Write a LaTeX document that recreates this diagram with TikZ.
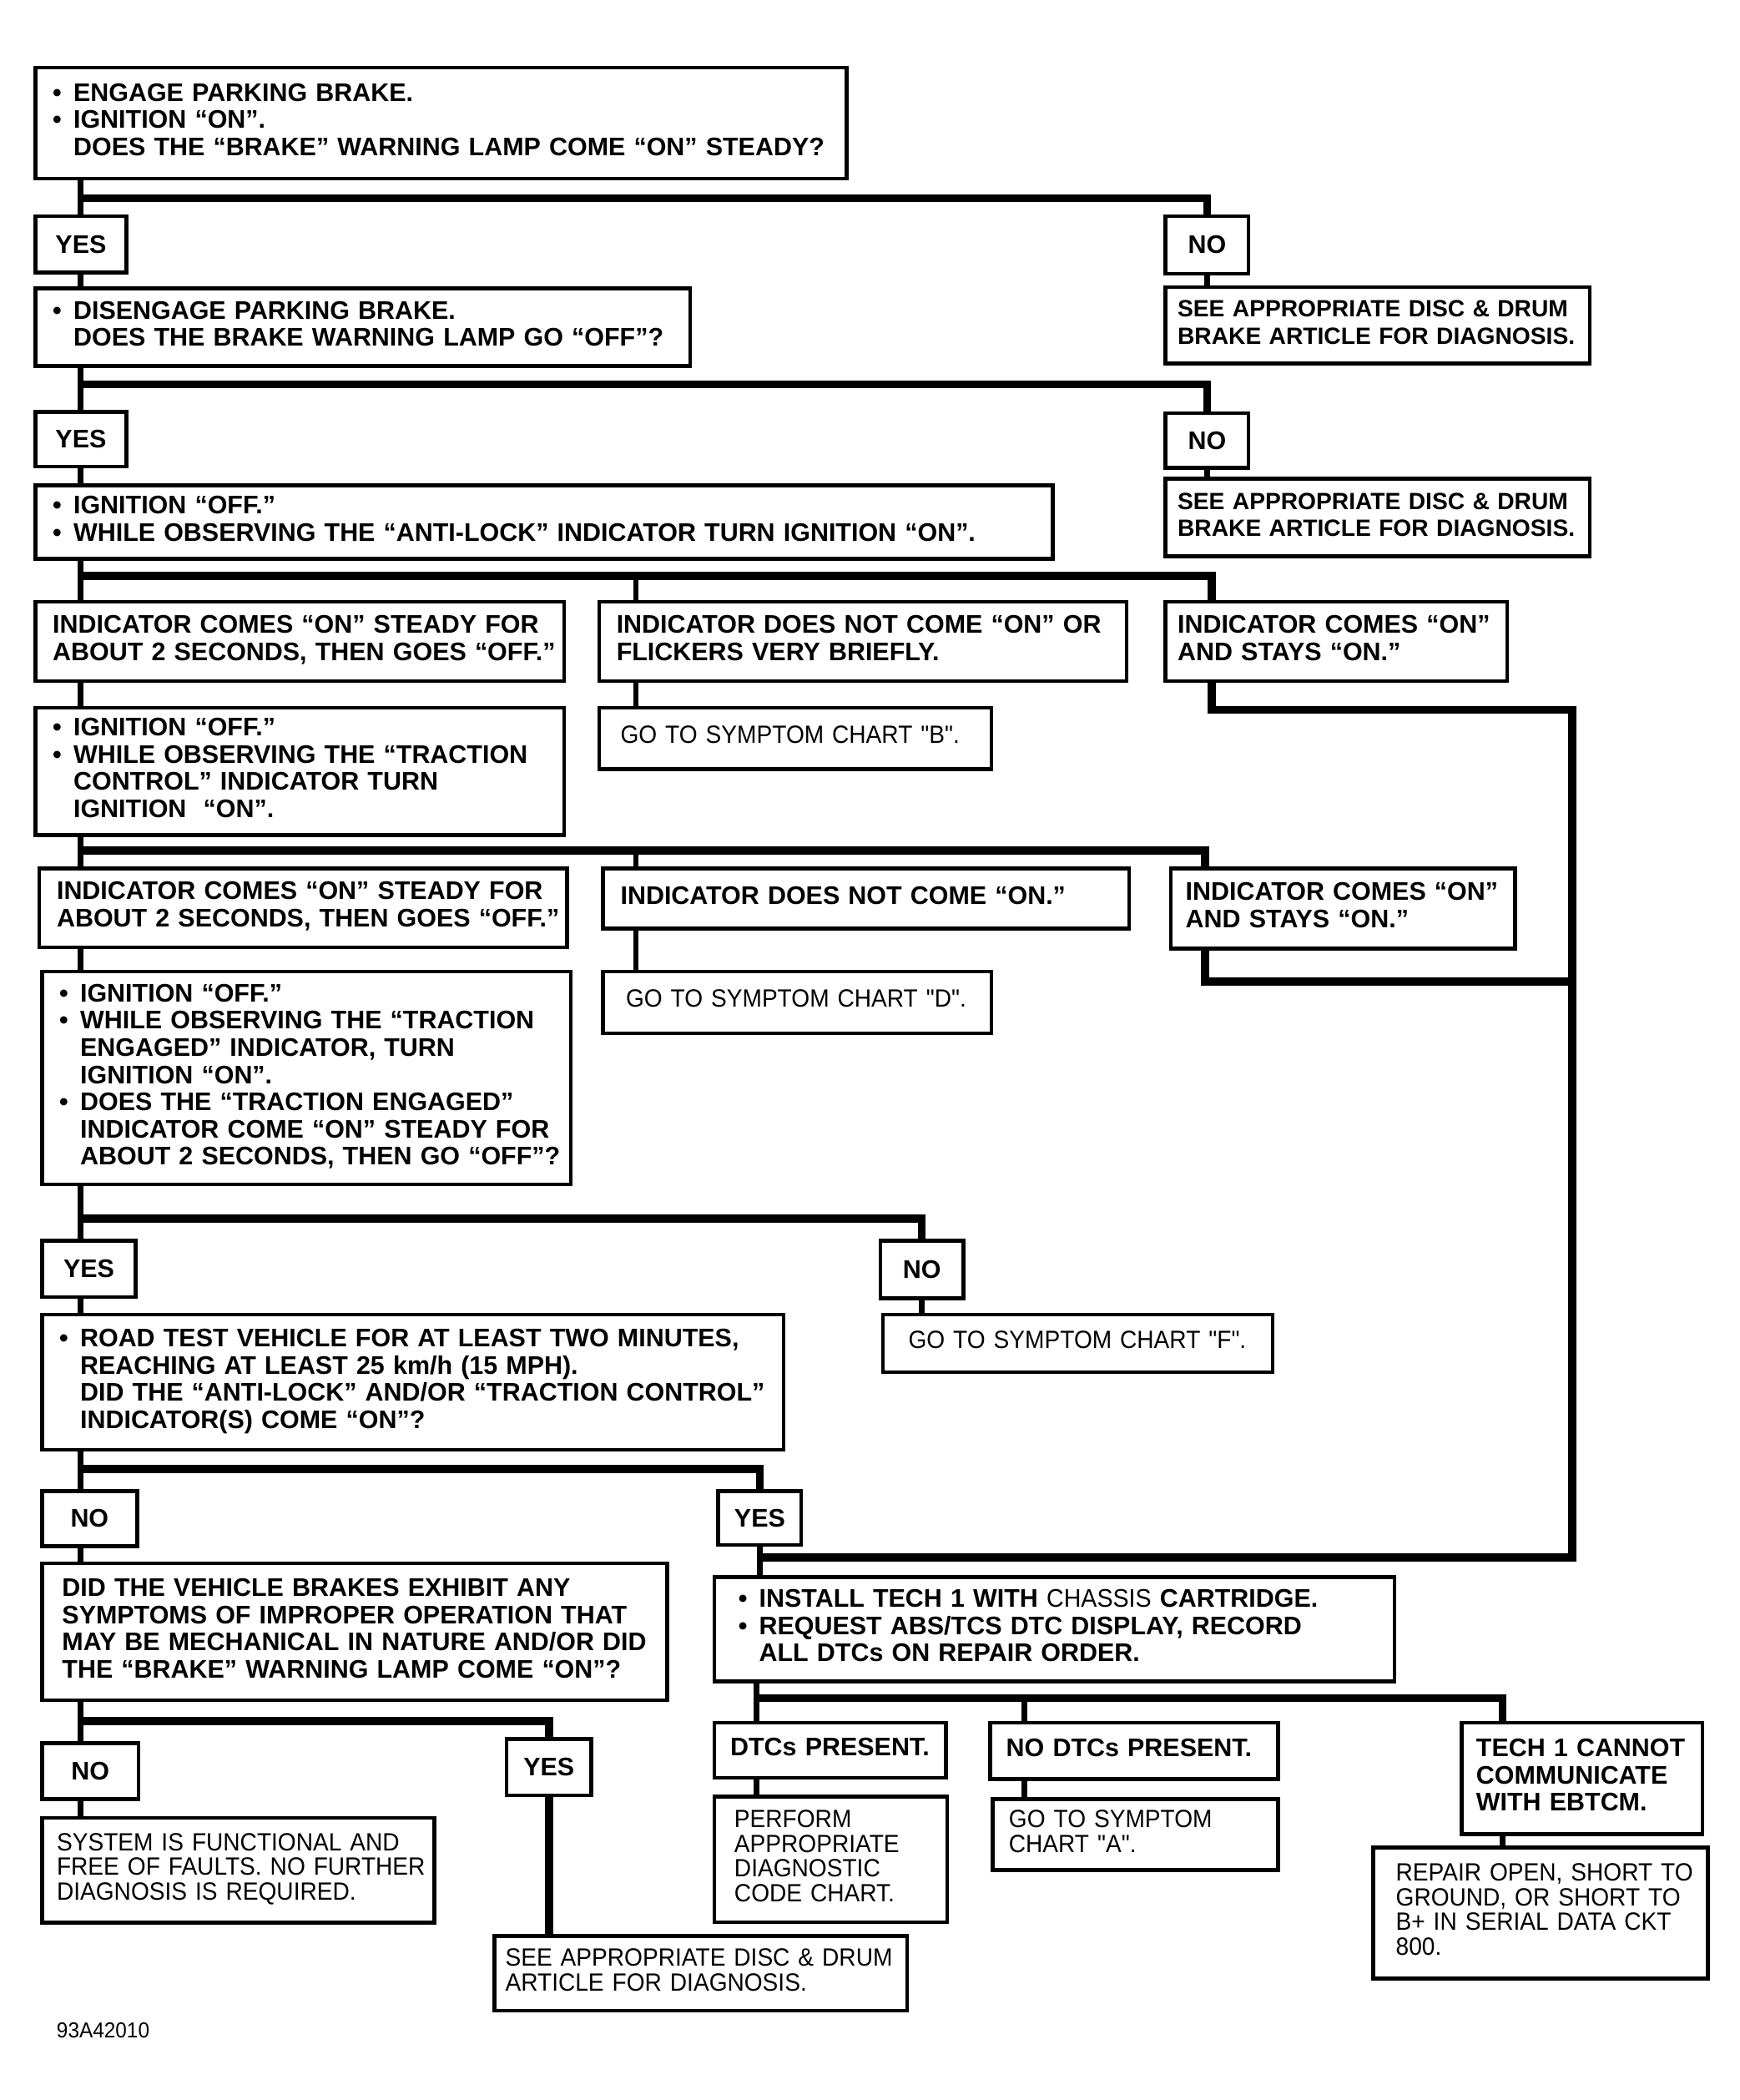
\documentclass[tikz,border=0pt]{standalone}
\usepackage{fontspec}
\setmainfont{Liberation Sans}[Ligatures=TeXOff]
\newfontfamily\rgfam{Liberation Sans}[Ligatures=TeXOff,FakeStretch=0.94]
\newcommand\bfnt{\fontsize{10.8}{11.55}\selectfont\bfseries}
\newcommand\sefnt{\fontsize{10.0}{11.55}\selectfont\bfseries}
\newcommand\rgfnt{\rgfam\fontsize{10.6}{10.24}\selectfont}
\newcommand\bul{\makebox[0.31cm][l]{•}}
\newcommand\ind{\hspace*{0.31cm}}
\newcommand\lns[1]{\begin{tabular}{@{}l@{}}#1\end{tabular}}
\newcommand\dq{\symbol{34}}

\begin{document}
\begin{tikzpicture}
		[x=0.02cm,y=-0.02cm,
		box/.style={draw,line width=1.6pt,anchor=north west,inner xsep=0.26cm,inner ysep=0pt,font=\bfnt},
		yn/.style={draw,line width=1.6pt,anchor=north west,inner sep=0pt,font=\bfnt},
		stem/.style={line width=2.3pt},
		bus/.style={line width=3.4pt}]
		\useasboundingbox (0,0) rectangle (1299,1568);

		\node[box,text width=11.60cm,minimum height=1.66cm] (b1) at (25,49) {\lns{\bul ENGAGE PARKING BRAKE.\\\bul IGNITION “ON”.\\\ind DOES THE “BRAKE” WARNING LAMP COME “ON” STEADY?}};
		\node[yn,minimum width=1.36cm,minimum height=0.84cm] (yes1) at (25,160) {YES};
		\node[yn,minimum width=1.24cm,minimum height=0.86cm] (no1) at (869,160) {NO};
		\node[box,inner xsep=0.18cm,text width=5.98cm,minimum height=1.14cm,font=\sefnt] (see1) at (869,213) {\lns{SEE APPROPRIATE DISC \& DRUM\\BRAKE ARTICLE FOR DIAGNOSIS.}};
		\node[box,text width=9.26cm,minimum height=1.16cm] (b2) at (25,214) {\lns{\bul DISENGAGE PARKING BRAKE.\\\ind DOES THE BRAKE WARNING LAMP GO “OFF”?}};
		\node[yn,minimum width=1.36cm,minimum height=0.82cm] (yes2) at (25,306) {YES};
		\node[yn,minimum width=1.24cm,minimum height=0.82cm] (no2) at (869,307) {NO};
		\node[box,inner xsep=0.18cm,text width=5.98cm,minimum height=1.16cm,font=\sefnt] (see2) at (869,356) {\lns{SEE APPROPRIATE DISC \& DRUM\\BRAKE ARTICLE FOR DIAGNOSIS.}};
		\node[box,text width=14.68cm,minimum height=1.10cm] (b3) at (25,361) {\lns{\bul IGNITION “OFF.”\\\bul WHILE OBSERVING THE “ANTI-LOCK” INDICATOR TURN IGNITION “ON”.}};

		\node[box,text width=7.38cm,minimum height=1.18cm] (i1) at (25,448) {\lns{INDICATOR COMES “ON” STEADY FOR\\ABOUT 2 SECONDS, THEN GOES “OFF.”}};
		\node[box,text width=7.36cm,minimum height=1.18cm] (i2) at (446,448) {\lns{INDICATOR DOES NOT COME “ON” OR\\FLICKERS VERY BRIEFLY.}};
		\node[box,inner xsep=0.18cm,text width=4.74cm,minimum height=1.18cm] (i3) at (869,448) {\lns{INDICATOR COMES “ON”\\AND STAYS “ON.”}};
		\node[box,text width=7.38cm,minimum height=1.90cm] (b4) at (25,527) {\lns{\bul IGNITION “OFF.”\\\bul WHILE OBSERVING THE “TRACTION\\\ind CONTROL” INDICATOR TURN\\\ind IGNITION \ “ON”.}};
		\node[box,inner xsep=0.32cm,text width=5.22cm,minimum height=0.92cm,font=\rgfnt] (gob) at (446,527) {\lns{GO TO SYMPTOM CHART \dq B\dq.}};

		\node[box,text width=7.36cm,minimum height=1.18cm] (j1) at (28,647) {\lns{INDICATOR COMES “ON” STEADY FOR\\ABOUT 2 SECONDS, THEN GOES “OFF.”}};
		\node[box,text width=7.34cm,minimum height=0.90cm] (j2) at (449,647) {\lns{INDICATOR DOES NOT COME “ON.”}};
		\node[box,inner xsep=0.22cm,text width=4.70cm,minimum height=1.20cm] (j3) at (873,647) {\lns{INDICATOR COMES “ON”\\AND STAYS “ON.”}};
		\node[box,inner xsep=0.34cm,text width=5.12cm,minimum height=0.92cm,font=\rgfnt] (god) at (449,724) {\lns{GO TO SYMPTOM CHART \dq D\dq.}};
		\node[box,text width=7.38cm,minimum height=3.18cm] (b5) at (30,724) {\lns{\bul IGNITION “OFF.”\\\bul WHILE OBSERVING THE “TRACTION\\\ind ENGAGED” INDICATOR, TURN\\\ind IGNITION “ON”.\\\bul DOES THE “TRACTION ENGAGED”\\\ind INDICATOR COME “ON” STEADY FOR\\\ind ABOUT 2 SECONDS, THEN GO “OFF”?}};

		\node[yn,minimum width=1.40cm,minimum height=0.84cm] (yes3) at (30,925) {YES};
		\node[yn,minimum width=1.24cm,minimum height=0.86cm] (no3) at (656,925) {NO};
		\node[box,inner xsep=0.38cm,text width=5.06cm,minimum height=0.86cm,font=\rgfnt] (gof) at (658,980) {\lns{GO TO SYMPTOM CHART \dq F\dq.}};
		\node[box,text width=10.56cm,minimum height=2.02cm] (b6) at (30,980) {\lns{\bul ROAD TEST VEHICLE FOR AT LEAST TWO MINUTES,\\\ind REACHING AT LEAST 25 km/h (15 MPH).\\\ind DID THE “ANTI-LOCK” AND/OR “TRACTION CONTROL”\\\ind INDICATOR(S) COME “ON”?}};

		\node[yn,minimum width=1.42cm,minimum height=0.82cm] (no4) at (30,1112) {NO};
		\node[yn,minimum width=1.24cm,minimum height=0.80cm] (yes4) at (535,1112) {YES};
		\node[box,inner xsep=0.30cm,text width=8.74cm,minimum height=2.04cm] (b7) at (30,1166) {\lns{DID THE VEHICLE BRAKES EXHIBIT ANY\\SYMPTOMS OF IMPROPER OPERATION THAT\\MAY BE MECHANICAL IN NATURE AND/OR DID\\THE “BRAKE” WARNING LAMP COME “ON”?}};
		\node[box,inner xsep=0.36cm,text width=9.44cm,minimum height=1.56cm] (tech) at (532,1176) {\lns{\bul INSTALL TECH 1 WITH {\rgfam\mdseries CHASSIS} CARTRIDGE.\\\bul REQUEST ABS/TCS DTC DISPLAY, RECORD\\\ind ALL DTCs ON REPAIR ORDER.}};

		\node[yn,minimum width=1.44cm,minimum height=0.84cm] (no5) at (30,1300) {NO};
		\node[yn,minimum width=1.26cm,minimum height=0.84cm] (yes5) at (377,1297) {YES};
		\node[box,inner xsep=0.22cm,text width=5.42cm,minimum height=1.56cm,font=\rgfnt] (sysf) at (30,1356) {\lns{SYSTEM IS FUNCTIONAL AND\\FREE OF FAULTS. NO FURTHER\\DIAGNOSIS IS REQUIRED.}};
		\node[box,inner xsep=0.16cm,text width=5.84cm,minimum height=1.12cm,font=\rgfnt] (seeart) at (368,1444) {\lns{SEE APPROPRIATE DISC \& DRUM\\ARTICLE FOR DIAGNOSIS.}};
		\node[box,inner xsep=0.24cm,text width=2.98cm,minimum height=0.82cm] (dtc) at (532,1285) {\lns{DTCs PRESENT.}};
		\node[box,inner xsep=0.24cm,text width=3.82cm,minimum height=0.84cm] (nodtc) at (738,1285) {\lns{NO DTCs PRESENT.}};
		\node[box,inner xsep=0.22cm,text width=3.16cm,minimum height=1.66cm] (tc) at (1090,1285) {\lns{TECH 1 CANNOT\\COMMUNICATE\\WITH EBTCM.}};
		\node[box,inner xsep=0.30cm,text width=2.88cm,minimum height=1.88cm,font=\rgfnt] (perf) at (532,1340) {\lns{PERFORM\\APPROPRIATE\\DIAGNOSTIC\\CODE CHART.}};
		\node[box,inner xsep=0.24cm,text width=3.78cm,minimum height=1.06cm,font=\rgfnt] (goa) at (740,1342) {\lns{GO TO SYMPTOM\\CHART \dq A\dq.}};
		\node[box,inner xsep=0.34cm,text width=4.32cm,minimum height=1.96cm,font=\rgfnt] (rep) at (1024,1378) {\lns{REPAIR OPEN, SHORT TO\\GROUND, OR SHORT TO\\B+ IN SERIAL DATA CKT\\800.}};
		\node[anchor=west,inner sep=0pt,font=\rgfam\fontsize{9.2}{10}\selectfont] (fig) at (42,1516) {93A42010};

		\coordinate (t1) at (60,148);
		\draw[stem] (b1.south -| t1) -- (yes1.north -| t1);
		\draw[bus] (t1) -| (no1.north);
		\draw[stem] (yes1.south -| t1) -- (b2.north -| t1);
		\draw[stem] (no1.south) -- (see1.north -| no1.south);

		\coordinate (t2) at (60,287);
		\draw[stem] (b2.south -| t2) -- (yes2.north -| t2);
		\draw[bus] (t2) -| (no2.north);
		\draw[stem] (yes2.south -| t2) -- (b3.north -| t2);
		\draw[stem] (no2.south) -- (see2.north -| no2.south);

		\coordinate (t3) at (60,430);
		\coordinate (t3b) at (475,430);
		\coordinate (t3c) at (905,430);
		\draw[stem] (b3.south -| t3) -- (i1.north -| t3);
		\draw[bus] (t3) -- (t3c) -- (i3.north -| t3c);
		\draw[stem] (t3b) -- (i2.north -| t3b);
		\draw[stem] (i1.south -| t3) -- (b4.north -| t3);
		\draw[stem] (i2.south -| t3b) -- (gob.north -| t3b);

		\coordinate (r1) at (1174,530);
		\coordinate (r2) at (1174,733);
		\coordinate (tj) at (566,1163);
		\draw[bus] (i3.south -| t3c) |- (r1) -- (r1 |- tj) -- (tj);

		\coordinate (t4) at (60,635);
		\coordinate (t4b) at (475,635);
		\coordinate (t4c) at (900,635);
		\draw[stem] (b4.south -| t4) -- (j1.north -| t4);
		\draw[bus] (t4) -- (t4c) -- (j3.north -| t4c);
		\draw[stem] (t4b) -- (j2.north -| t4b);
		\draw[stem] (j1.south -| t4) -- (b5.north -| t4);
		\draw[stem] (j2.south -| t4b) -- (god.north -| t4b);
		\draw[bus] (j3.south -| t4c) |- (r2);

		\coordinate (t5) at (60,910);
		\draw[stem] (b5.south -| t5) -- (yes3.north -| t5);
		\draw[bus] (t5) -| (no3.north);
		\draw[stem] (yes3.south -| t5) -- (b6.north -| t5);
		\draw[stem] (no3.south) -- (gof.north -| no3.south);

		\coordinate (t6) at (60,1097);
		\draw[stem] (b6.south -| t6) -- (no4.north -| t6);
		\draw[bus] (t6) -| (yes4.north);
		\draw[stem] (no4.south -| t6) -- (b7.north -| t6);
		\draw[stem] (yes4.south) -- (tech.north -| yes4.south);

		\coordinate (t7) at (60,1285);
		\draw[stem] (b7.south -| t7) -- (no5.north -| t7);
		\draw[bus] (t7) -| (yes5.north);
		\draw[stem] (no5.south -| t7) -- (sysf.north -| t7);
		\draw[bus] (yes5.south) -- (seeart.north -| yes5.south);

		\coordinate (t8) at (565,1268);
		\coordinate (t8b) at (765,1268);
		\coordinate (t8c) at (1122,1268);
		\draw[stem] (tech.south -| t8) -- (dtc.north -| t8);
		\draw[bus] (t8) -- (t8c) -- (tc.north -| t8c);
		\draw[stem] (t8b) -- (nodtc.north -| t8b);
		\draw[stem] (dtc.south -| t8) -- (perf.north -| t8);
		\draw[stem] (nodtc.south -| t8b) -- (goa.north -| t8b);
		\draw[stem] (tc.south -| t8c) -- (rep.north -| t8c);

	\end{tikzpicture}
\end{document}
